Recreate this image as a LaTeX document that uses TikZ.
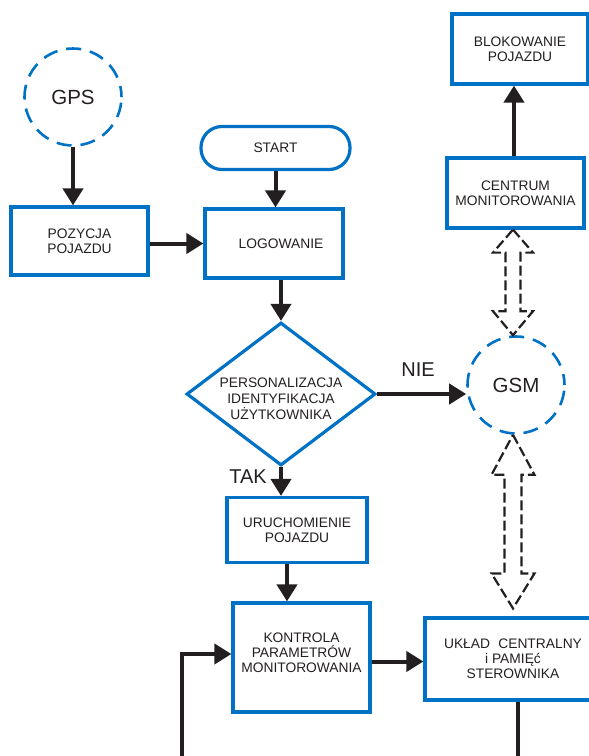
\documentclass[tikz,border=0pt]{standalone}
\usepackage{fontspec}
\setmainfont{Liberation Sans}
\usetikzlibrary{arrows.meta,shapes.geometric,calc}
\definecolor{bblue}{RGB}{0,114,198}
\definecolor{ink}{RGB}{35,31,32}
\newcommand{\hollowarrow}[7]{%
  \draw[hollow] let \p1=(#1), \p2=(#2) in
    (\x1,\y1) -- (\x1+#5,\y1-#3) -- (\x1+#6,\y1-#3) -- (\x1+#6,\y2+#4)
    -- (\x1+#7,\y2+#4) -- (\x1,\y2) -- (\x1-#7,\y2+#4) -- (\x1-#6,\y2+#4)
    -- (\x1-#6,\y1-#3) -- (\x1-#5,\y1-#3) -- cycle;}
\begin{document}
\begin{tikzpicture}[x=1pt,y=-1pt,
  txt/.style={text=ink,font=\fontsize{13.8}{15}\selectfont,align=center},
  box/.style={txt,draw=bblue,line width=3.2pt,rectangle,inner sep=0pt},
  ring/.style={draw=bblue,line width=2.6pt,circle,dash pattern=on 15pt off 9pt,
    dash phase=4pt,inner sep=0pt,text=ink,font=\fontsize{20.5}{22}\selectfont},
  arr/.style={draw=ink,line width=4pt,-{Triangle[length=17pt,width=20pt]}},
  plain/.style={draw=ink,line width=4pt},
  hollow/.style={draw=ink,line width=2.2pt,dash pattern=on 10pt off 4pt,line join=miter},
  lab/.style={text=ink,font=\fontsize{20}{22}\selectfont}]
\useasboundingbox (0,0) rectangle (589,756);

% nodes
\node[ring,minimum size=97pt] (gps) at (73,97) {GPS};
\node[box,minimum width=137pt,minimum height=68pt] (pozycja) at (79.5,241) {POZYCJA\\POJAZDU};
\node[box,rounded corners=21pt,minimum width=149pt,minimum height=43pt] (start) at (275.5,148) {START};
\node[box,minimum width=138pt,minimum height=69pt] (logowanie) at (274,243.5) {\hspace*{14pt}LOGOWANIE};
\node[draw=bblue,line width=3.2pt,diamond,aspect=1.32,inner sep=0pt,
  minimum width=189pt,minimum height=143pt] (pers) at (281,394) {};
\node[txt,font=\fontsize{13.8}{16}\selectfont] (perstext) at ($(pers.center)+(0,5)$)
  {PERSONALIZACJA\\IDENTYFIKACJA\\UŻYTKOWNIKA};
\node[box,minimum width=140pt,minimum height=65pt] (uruch) at (297,530) {URUCHOMIENIE\\POJAZDU};
\node[box,minimum width=137pt,minimum height=109pt] (kontrola) at (301.5,657.5) {KONTROLA\\PARAMETRÓW\\MONITOROWANIA\\[-5pt]};
\node[box,minimum width=176pt,minimum height=82pt] (uklad) at (513,659) {UKŁAD\hspace{0.6em}CENTRALNY\\i PAMIĘć\\STEROWNIKA};
\node[ring,minimum size=97pt] (gsm) at (516,385) {GSM};
\node[box,minimum width=137pt,minimum height=70pt] (centrum) at (515.5,193) {CENTRUM\\MONITOROWANIA};
\node[box,minimum width=136pt,minimum height=70pt] (blok) at (520,49) {BLOKOWANIE\\POJAZDU};

\node[lab] (nie) at (418,370) {NIE};
\node[lab] (tak) at (248,477) {TAK};

% coordinates
\coordinate (ax) at (287,0);
\coordinate (fb) at (182,760);
\coordinate (ub) at (518,760);
\coordinate (ukTip) at ($(uklad.north)+(0,-8)$);
\coordinate (k1) at ($(kontrola.east)+(0,4)$);

% connectors
\draw[arr] (gps.south) -- (gps.south |- pozycja.north);
\draw[arr] (pozycja.east |- logowanie) -- (logowanie.west);
\draw[arr] (start.south) -- (start.south |- logowanie.north);
\draw[arr] (logowanie.south -| pers.north) -- (pers.north);
\draw[arr] (pers.east) -- (pers.east -| gsm.west);
\draw[arr] (pers.south) -- (pers.south |- uruch.north);
\draw[arr] (uruch.south -| ax) -- (kontrola.north -| ax);
\draw[arr] (fb) |- ($(kontrola.west)+(0,-3.5)$);
\draw[arr] (k1) -- (k1 -| uklad.west);
\draw[plain] (uklad.south -| ub) -- (ub);
\draw[arr] (centrum.north -| 514,0) -- (blok.south -| 514,0);

% hollow double arrows
\hollowarrow{$(centrum.south)+(-2.5,0)$}{gsm.north}{23pt}{24pt}{20pt}{7.5pt}{20pt}
\hollowarrow{$(gsm.south)+(-3,0)$}{ukTip}{40pt}{35pt}{21.5pt}{8.5pt}{21.5pt}
\end{tikzpicture}
\end{document}
